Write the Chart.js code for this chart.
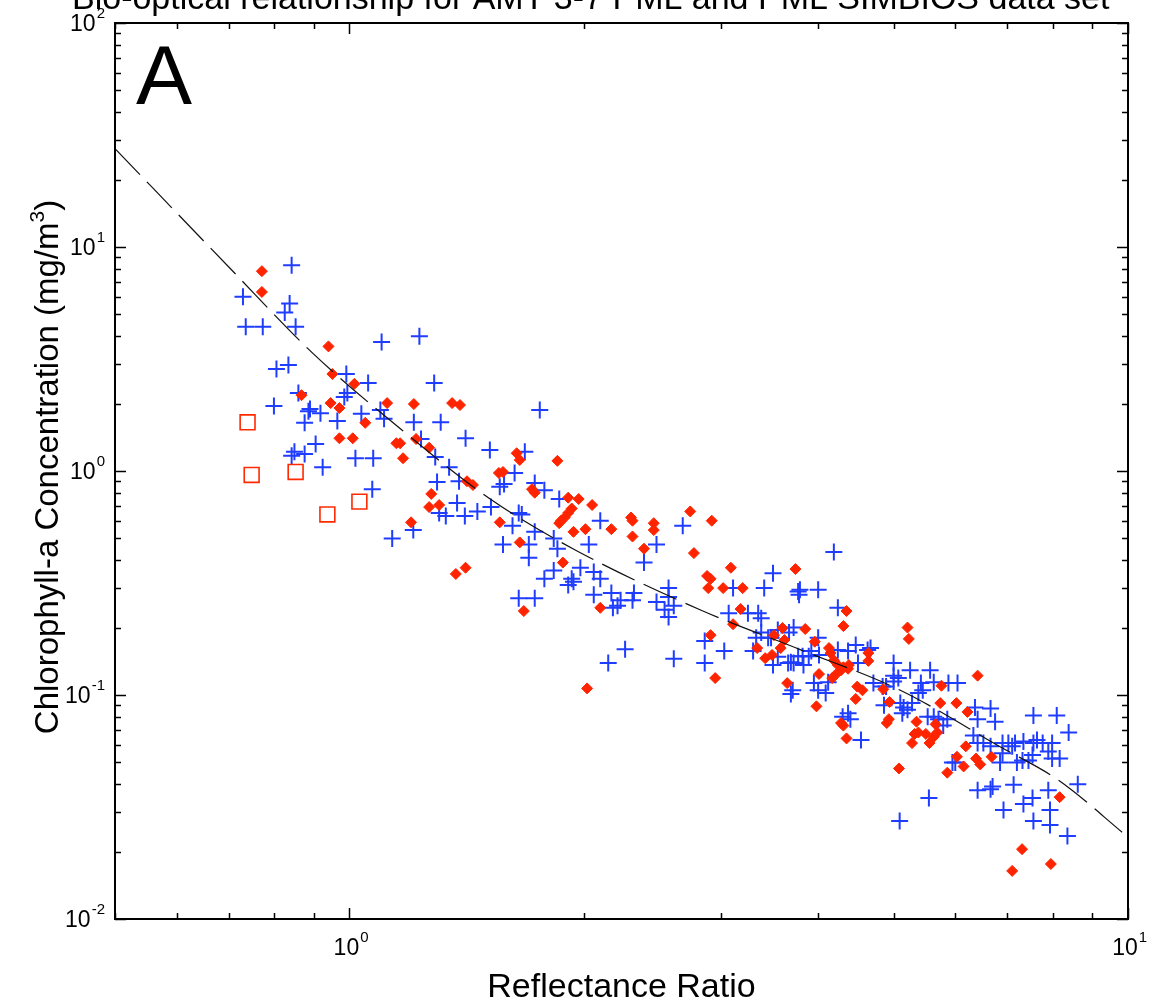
<!DOCTYPE html>
<html>
<head>
<meta charset="utf-8">
<title>Reflectance ratio vs chlorophyll-a</title>
<script src="https://cdn.jsdelivr.net/npm/chart.js@4.4.1/dist/chart.umd.min.js"></script>
<style>
    html, body { margin: 0; padding: 0; background: #fff; }
    #wrap { width: 1163px; height: 1005px; }
</style>
</head>
<body>
<div id="wrap"><canvas id="chart" width="1163" height="1005"></canvas></div>
<script>
// ==========================================
// DATA
// ==========================================

// blue crosses
const crossRatio = [
    0.843, 0.73, 0.838, 0.826, 0.736, 0.774, 0.853, 1.10, 1.23, 0.806,
    0.835, 0.991, 1.057, 0.994, 0.985, 1.285, 0.86, 0.80, 0.89, 0.886,
    0.918, 0.876, 0.965, 1.036, 1.096, 1.108, 1.21, 1.31, 1.41, 1.515,
    0.905, 0.85, 0.843, 0.876, 1.018, 1.073, 1.236, 1.289, 1.343, 0.924,
    1.296, 1.383, 1.56, 1.07, 1.375, 1.304, 1.33, 1.407, 1.46, 1.52,
    1.208, 1.135, 1.756, 1.68, 1.63, 1.58, 1.73, 1.78, 1.86, 1.65,
    1.665, 1.62, 1.73, 1.70, 1.70, 1.575, 1.83, 1.85, 2.10, 2.03,
    1.98, 1.83, 1.78, 1.93, 1.94, 1.91, 2.06, 2.10, 1.65, 1.73,
    2.06, 2.17, 2.23, 2.21, 2.18, 2.32, 2.31, 2.39, 2.48, 2.68,
    3.50, 3.11, 3.41, 3.77, 2.57, 2.57, 2.48, 2.54, 2.57, 2.61,
    3.07, 3.25, 3.35, 3.38, 3.03, 2.86, 2.86, 2.61, 2.26, 2.15,
    3.38, 3.45, 3.33, 3.66, 3.72, 3.77, 3.50, 3.71, 4.19, 3.79,
    4.00, 3.78, 4.24, 3.30, 3.48, 3.55, 3.72, 3.67, 3.55, 3.69,
    3.82, 3.89, 3.83, 4.00, 3.92, 4.01, 4.24, 4.47, 4.63, 4.50,
    4.67, 3.95, 4.12, 4.09, 3.69, 4.71, 4.84, 4.37, 4.30, 4.40,
    4.54, 5.00, 5.00, 5.00, 5.07, 5.25, 5.57, 4.86, 4.89, 5.10,
    5.15, 5.21, 5.28, 5.13, 5.42, 5.63, 5.38, 5.45, 5.53, 5.63,
    5.71, 5.88, 6.04, 5.79, 5.86, 6.36, 6.66, 6.41, 6.75, 6.33,
    6.41, 6.52, 6.66, 6.90, 7.02, 7.16, 6.90, 7.10, 7.32, 7.45,
    7.54, 6.00, 6.41, 6.66, 6.70, 5.55, 5.09, 6.92, 7.13, 7.34,
    7.54, 7.56, 7.90, 7.94, 7.94, 7.56, 8.10, 7.56, 7.77, 7.99,
    7.90, 7.99, 8.17, 8.39, 8.62, 8.36, 7.64, 7.34, 6.85, 7.20,
    5.95, 4.37, 4.00
];
const crossChl = [
    8.3, 6.0, 5.6, 5.1, 4.4, 4.4, 4.4, 3.77, 4.0, 2.85,
    2.97, 2.71, 2.47, 2.23, 2.14, 2.47, 2.23, 1.95, 1.89, 1.85,
    1.81, 1.64, 1.67, 1.80, 1.87, 1.71, 1.65, 1.65, 1.40, 1.24,
    1.32, 1.22, 1.17, 1.19, 1.14, 1.14, 1.39, 1.155, 1.04, 1.04,
    0.893, 0.90, 0.85, 0.83, 0.72, 0.65, 0.63, 0.63, 0.66, 0.69,
    0.545, 0.50, 1.87, 1.22, 0.98, 0.875, 0.885, 0.82, 0.75, 0.65,
    0.64, 0.57, 0.535, 0.47, 0.41, 0.47, 0.50, 0.45, 0.60, 0.47,
    0.37, 0.36, 0.33, 0.33, 0.32, 0.31, 0.354, 0.33, 0.27, 0.27,
    0.28, 0.285, 0.265, 0.25, 0.245, 0.285, 0.265, 0.39, 0.47, 0.57,
    0.35, 0.30, 0.30, 0.29, 0.30, 0.274, 0.26, 0.24, 0.223, 0.25,
    0.232, 0.232, 0.232, 0.22, 0.157, 0.174, 0.139, 0.145, 0.16, 0.139,
    0.19, 0.18, 0.18, 0.139, 0.139, 0.149, 0.136, 0.105, 0.435, 0.295,
    0.295, 0.28, 0.245, 0.157, 0.18, 0.195, 0.20, 0.19, 0.148, 0.14,
    0.149, 0.149, 0.136, 0.18, 0.157, 0.151, 0.159, 0.167, 0.159, 0.139,
    0.162, 0.113, 0.114, 0.102, 0.101, 0.113, 0.109, 0.083, 0.080, 0.078,
    0.063, 0.139, 0.122, 0.115, 0.119, 0.129, 0.129, 0.090, 0.109, 0.092,
    0.088, 0.086, 0.092, 0.083, 0.113, 0.114, 0.102, 0.105, 0.080, 0.080,
    0.078, 0.113, 0.113, 0.073, 0.078, 0.088, 0.087, 0.078, 0.076, 0.066,
    0.061, 0.061, 0.059, 0.061, 0.061, 0.061, 0.055, 0.059, 0.051, 0.051,
    0.054, 0.050, 0.0376, 0.038, 0.039, 0.0347, 0.0274, 0.0307, 0.0397, 0.0326,
    0.0347, 0.0274, 0.0376, 0.0307, 0.0263, 0.081, 0.081, 0.061, 0.061, 0.061,
    0.056, 0.052, 0.052, 0.068, 0.040, 0.0235, 0.063, 0.062, 0.050, 0.050,
    0.050, 0.157, 0.105
];

// red filled diamonds
const diamondRatio = [
    0.772, 0.772, 0.940, 0.951, 1.015, 0.868, 0.946, 0.971, 1.048, 1.118,
    1.21, 1.355, 1.387, 0.971, 1.01, 1.149, 1.162, 1.218, 1.172, 1.266,
    1.556, 1.416, 1.441, 1.274, 1.266, 1.304, 1.20, 1.56, 1.64, 1.655,
    1.85, 1.575, 1.716, 1.73, 1.91, 1.97, 2.05, 1.93, 1.91, 1.89,
    1.87, 1.86, 1.94, 2.01, 2.17, 2.30, 2.31, 2.31, 2.46, 2.46,
    2.74, 2.92, 2.39, 2.77, 1.655, 1.88, 1.37, 1.41, 1.675, 2.10,
    3.09, 3.74, 2.88, 2.91, 2.89, 3.02, 3.20, 3.18, 3.11, 2.91,
    3.51, 3.60, 3.62, 3.58, 3.49, 3.42, 3.34, 2.95, 2.02, 3.65,
    3.85, 3.96, 4.01, 3.98, 4.35, 4.31, 4.13, 4.15, 4.19, 4.24,
    4.31, 4.28, 4.21, 4.17, 4.37, 4.38, 4.64, 4.64, 4.49, 4.56,
    4.47, 4.28, 4.31, 4.35, 4.85, 4.94, 4.90, 4.93, 5.21, 5.23,
    5.08, 5.35, 5.38, 5.32, 5.28, 5.66, 5.69, 5.63, 5.56, 5.50,
    5.76, 5.74, 6.02, 6.22, 6.41, 6.19, 5.86, 6.03, 6.15, 6.38,
    6.46, 6.68, 8.17, 7.31, 7.10, 7.96
];
const diamondChl = [
    7.8, 6.3, 3.6, 2.71, 2.45, 2.18, 2.01, 1.91, 1.64, 2.01,
    1.99, 2.01, 1.97, 1.40, 1.40, 1.33, 1.33, 1.39, 1.14, 1.27,
    0.98, 0.90, 0.866, 0.79, 0.69, 0.705, 0.59, 0.59, 1.20, 1.12,
    1.11, 0.99, 0.83, 0.80, 0.76, 0.75, 0.705, 0.68, 0.65, 0.62,
    0.60, 0.585, 0.535, 0.55, 0.55, 0.62, 0.60, 0.51, 0.585, 0.545,
    0.66, 0.60, 0.45, 0.43, 0.48, 0.39, 0.347, 0.37, 0.237, 0.245,
    0.37, 0.365, 0.34, 0.33, 0.30, 0.30, 0.30, 0.242, 0.207, 0.185,
    0.185, 0.199, 0.176, 0.162, 0.151, 0.146, 0.162, 0.119, 0.107, 0.113,
    0.197, 0.173, 0.124, 0.089, 0.237, 0.203, 0.162, 0.154, 0.143, 0.136,
    0.133, 0.129, 0.123, 0.119, 0.131, 0.136, 0.154, 0.142, 0.109, 0.105,
    0.096, 0.075, 0.073, 0.064, 0.106, 0.093, 0.075, 0.078, 0.20, 0.178,
    0.047, 0.076, 0.068, 0.067, 0.061, 0.074, 0.068, 0.065, 0.061, 0.067,
    0.11, 0.092, 0.092, 0.084, 0.122, 0.059, 0.045, 0.053, 0.048, 0.052,
    0.049, 0.053, 0.035, 0.0205, 0.0164, 0.0176
];

// red open squares
const squareRatio = [0.74, 0.749, 0.853, 0.937, 1.03];
const squareChl = [1.65, 0.96, 0.99, 0.64, 0.73];

// dashed fit curve, sampled along the drawn line
const fitRatio = [0.5, 0.702, 0.897, 1.169, 1.51, 1.95, 2.83, 3.80, 5.10, 6.86, 8.13, 10];
const fitChl = [27.5, 8.06, 3.36, 1.52, 0.758, 0.444, 0.239, 0.159, 0.105, 0.0586, 0.0418, 0.0232];

// axis ticks
const xMajorTicks = [1, 10];
const xMajorExp = ['0', '1'];
const xMinorTicks = [0.5, 0.6, 0.7, 0.8, 0.9, 2, 3, 4, 5, 6, 7, 8, 9];
const yMajorTicks = [0.01, 0.1, 1, 10, 100];
const yMajorExp = ['-2', '-1', '0', '1', '2'];
const yMinorTicks = [
    0.02, 0.03, 0.04, 0.05, 0.06, 0.07, 0.08, 0.09,
    0.2, 0.3, 0.4, 0.5, 0.6, 0.7, 0.8, 0.9,
    2, 3, 4, 5, 6, 7, 8, 9,
    20, 30, 40, 50, 60, 70, 80, 90
];

const titleText = 'Bio-optical relationship for AMT 3-7 PML and PML SIMBIOS data set';
const xTitle = 'Reflectance Ratio';
const yTitle = 'Chlorophyll-a Concentration (mg/m';
const panelLabel = 'A';

// ==========================================
// HELPERS
// ==========================================

function toPoints(xs, ys) {
    return xs.map((x, i) => ({ x: x, y: ys[i] }));
}

const FONT = '"Liberation Sans", Arial, sans-serif';
const NARROW = '"Liberation Sans Narrow", "Liberation Sans", Arial, sans-serif';

function drawPower(ctx, exp, x, y, align) {
    ctx.font = '23px ' + NARROW;
    const wb = ctx.measureText('10').width;
    ctx.font = '15px ' + NARROW;
    const we = ctx.measureText(exp).width;
    let x0 = align === 'right' ? x - wb - we - 1 : x - wb / 2;
    ctx.font = '23px ' + NARROW;
    ctx.fillText('10', x0, y);
    ctx.font = '15px ' + NARROW;
    ctx.fillText(exp, x0 + wb + 1, y - 13);
}

// frame, inward ticks, labels and titles
const framePlugin = {
    id: 'frame',
    afterDraw(chart) {
        const ctx = chart.ctx;
        const a = chart.chartArea;
        const xs = chart.scales.x;
        const ys = chart.scales.y;
        ctx.save();
        ctx.strokeStyle = '#000';
        ctx.fillStyle = '#000';

        // ticks
        ctx.lineWidth = 1.5;
        ctx.beginPath();
        xMajorTicks.forEach(v => {
            const px = Math.round(xs.getPixelForValue(v)) + 0.5;
            ctx.moveTo(px, a.bottom); ctx.lineTo(px, a.bottom - 11);
            ctx.moveTo(px, a.top); ctx.lineTo(px, a.top + 11);
        });
        xMinorTicks.forEach(v => {
            const px = Math.round(xs.getPixelForValue(v)) + 0.5;
            ctx.moveTo(px, a.bottom); ctx.lineTo(px, a.bottom - 6);
            ctx.moveTo(px, a.top); ctx.lineTo(px, a.top + 6);
        });
        yMajorTicks.forEach(v => {
            const py = Math.round(ys.getPixelForValue(v)) + 0.5;
            ctx.moveTo(a.left, py); ctx.lineTo(a.left + 11, py);
            ctx.moveTo(a.right, py); ctx.lineTo(a.right - 11, py);
        });
        yMinorTicks.forEach(v => {
            const py = Math.round(ys.getPixelForValue(v)) + 0.5;
            ctx.moveTo(a.left, py); ctx.lineTo(a.left + 6, py);
            ctx.moveTo(a.right, py); ctx.lineTo(a.right - 6, py);
        });
        ctx.stroke();

        // box
        ctx.lineWidth = 2;
        ctx.strokeRect(a.left, a.top, a.right - a.left, a.bottom - a.top);

        // tick labels
        ctx.textBaseline = 'alphabetic';
        ctx.textAlign = 'left';
        yMajorTicks.forEach((v, i) => {
            const py = ys.getPixelForValue(v);
            drawPower(ctx, yMajorExp[i], 105, py + 8, 'right');
        });
        xMajorTicks.forEach((v, i) => {
            const px = xs.getPixelForValue(v);
            drawPower(ctx, xMajorExp[i], px - 3, a.bottom + 36, 'center');
        });

        // x title
        ctx.font = '34px ' + FONT;
        ctx.textAlign = 'center';
        ctx.fillText(xTitle, (a.left + a.right) / 2, 997);

        // y title with superscript 3
        ctx.save();
        ctx.translate(58, (a.top + a.bottom) / 2 - 4);
        ctx.rotate(-Math.PI / 2);
        ctx.textAlign = 'left';
        ctx.font = '33px ' + FONT;
        const w1 = ctx.measureText(yTitle).width;
        ctx.font = '21px ' + FONT;
        const w2 = ctx.measureText('3').width;
        ctx.font = '33px ' + FONT;
        const w3 = ctx.measureText(')').width;
        let sx = -(w1 + w2 + w3) / 2;
        ctx.fillText(yTitle, sx, 0);
        ctx.font = '21px ' + FONT;
        ctx.fillText('3', sx + w1, -14);
        ctx.font = '33px ' + FONT;
        ctx.fillText(')', sx + w1 + w2, 0);
        ctx.restore();

        // panel letter
        ctx.font = '84px ' + FONT;
        ctx.textAlign = 'left';
        ctx.fillText(panelLabel, 136, 104);

        // clipped title at the very top
        ctx.font = '34px ' + FONT;
        ctx.fillText(titleText, 72, 9);

        ctx.restore();
    }
};

// ==========================================
// CHART
// ==========================================

const ctx = document.getElementById('chart');

new Chart(ctx, {
    data: {
        datasets: [
            {
                type: 'line',
                label: 'fit',
                data: toPoints(fitRatio, fitChl),
                borderColor: '#111',
                borderWidth: 1.2,
                borderDash: [36, 10],
                pointRadius: 0,
                fill: false,
                cubicInterpolationMode: 'monotone',
                order: 0
            },
            {
                type: 'scatter',
                label: 'diamonds',
                data: toPoints(diamondRatio, diamondChl),
                pointStyle: 'rectRot',
                pointRadius: 5.5,
                backgroundColor: '#ff2400',
                borderColor: '#ff2400',
                borderWidth: 1,
                order: 1
            },
            {
                type: 'scatter',
                label: 'squares',
                data: toPoints(squareRatio, squareChl),
                pointStyle: 'rect',
                pointRadius: 10.5,
                backgroundColor: 'rgba(0,0,0,0)',
                borderColor: '#ff2a00',
                borderWidth: 1.6,
                order: 1
            },
            {
                type: 'scatter',
                label: 'crosses',
                data: toPoints(crossRatio, crossChl),
                pointStyle: 'cross',
                pointRadius: 8.5,
                borderColor: '#1f3dff',
                borderWidth: 2,
                order: 2
            }
        ]
    },
    options: {
        responsive: false,
        animation: false,
        events: [],
        layout: {
            padding: { left: 115, right: 35, top: 23, bottom: 86 }
        },
        plugins: {
            legend: { display: false },
            tooltip: { enabled: false },
            title: { display: false }
        },
        scales: {
            x: { type: 'logarithmic', min: 0.5, max: 10, display: false },
            y: { type: 'logarithmic', min: 0.01, max: 100, display: false }
        }
    },
    plugins: [framePlugin]
});
</script>
</body>
</html>
